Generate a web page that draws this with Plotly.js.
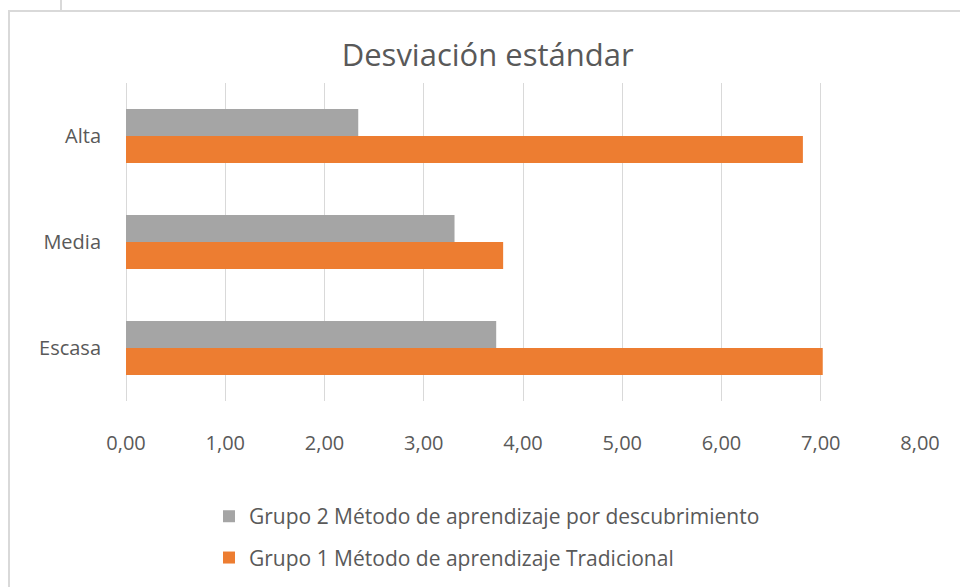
<!DOCTYPE html>
<html>
<head>
<meta charset="utf-8">
<script src="https://cdn.plot.ly/plotly-3.0.1.min.js"></script>
<style>
  html, body { margin: 0; padding: 0; background: #ffffff; }
  #wrap { position: relative; width: 960px; height: 587px; overflow: hidden; }
  #frame { position: absolute; left: 8px; top: 10px; width: 1000px; height: 1000px;
           border-left: 2px solid #d9d9d9; border-top: 2px solid #d9d9d9; box-sizing: border-box; }
  #tick { position: absolute; left: 60px; top: 0px; width: 2px; height: 10px; background: #d9d9d9; }
  #chart { position: absolute; left: 0; top: 0; width: 960px; height: 587px; }
</style>
</head>
<body>
<div id="wrap">
  <div id="frame"></div>
  <div id="tick"></div>
  <div id="chart"></div>
</div>
<script>
const categories = ["Escasa", "Media", "Alta"];
const grupo1Name = "Grupo 1 Método de aprendizaje Tradicional";
const grupo2Name = "Grupo 2 Método de aprendizaje por descubrimiento";
const grupo1Values = [7.02, 3.80, 6.82];
const grupo2Values = [3.73, 3.31, 2.34];
const xTicks = [0, 1, 2, 3, 4, 5, 6, 7, 8];

const fontFam = "'Open Sans', 'Noto Sans', sans-serif";
const textColor = "#595959";

const traces = [
  {
    type: "bar", orientation: "h",
    y: categories, x: grupo1Values,
    name: grupo1Name, legendgroup: "g1", legendrank: 2,
    marker: { color: "#ed7d31" },
    hoverinfo: "x+y"
  },
  {
    type: "bar", orientation: "h",
    y: categories, x: grupo2Values,
    name: grupo2Name, legendgroup: "g2", legendrank: 1,
    marker: { color: "#a5a5a5" },
    hoverinfo: "x+y"
  }
];

const layout = {
  width: 960, height: 587,
  paper_bgcolor: "rgba(0,0,0,0)",
  plot_bgcolor: "rgba(0,0,0,0)",
  separators: ",.",
  margin: { l: 126, r: 40, t: 83, b: 186, autoexpand: false },
  barmode: "group",
  bargap: 0.49,
  bargroupgap: 0,
  font: { family: fontFam, color: textColor },
  title: {
    text: "Desviación estándar",
    font: { family: fontFam, size: 31, color: textColor },
    x: 0.508, xref: "container", xanchor: "center",
    y: 0.906, yref: "container", yanchor: "middle"
  },
  xaxis: {
    range: [0, 8],
    tickvals: xTicks,
    tickformat: ".2f",
    showgrid: true, gridcolor: "#d9d9d9", gridwidth: 1,
    zeroline: true, zerolinecolor: "#d9d9d9", zerolinewidth: 1,
    showline: false, ticks: "",
    ticklabelstandoff: 28,
    tickfont: { family: fontFam, size: 20, color: textColor },
    automargin: false,
    fixedrange: true
  },
  yaxis: {
    categoryorder: "array", categoryarray: categories,
    showgrid: false, zeroline: false, showline: false, ticks: "",
    ticklabelstandoff: 24,
    tickfont: { family: fontFam, size: 20, color: textColor },
    automargin: false,
    fixedrange: true
  },
  showlegend: true,
  legend: {
    orientation: "v",
    traceorder: "grouped",
    tracegroupgap: 11,
    x: 0.1045, xanchor: "left",
    y: -0.299, yanchor: "top",
    font: { family: fontFam, size: 21, color: textColor },
    bgcolor: "rgba(0,0,0,0)",
    itemwidth: 30
  }
};

Plotly.newPlot("chart", traces, layout, { displayModeBar: false, staticPlot: true });
</script>
</body>
</html>
